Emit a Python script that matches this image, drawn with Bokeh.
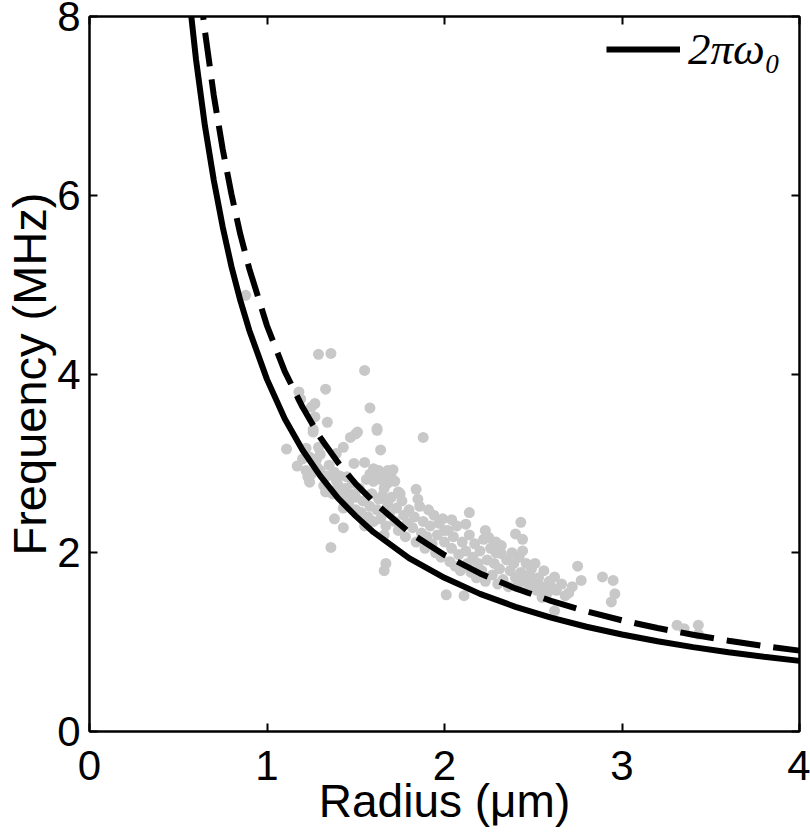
from bokeh.plotting import figure
from bokeh.models import LinearAxis, FixedTicker, Range1d, Legend, LegendItem
from bokeh.embed import file_html
from bokeh.resources import INLINE

# ---- data ----
x_ticks = [0, 1, 2, 3, 4]
y_ticks = [0, 2, 4, 6, 8]

# 2*pi*omega_0 (solid) curve
solid_r = [0.55, 0.6, 0.65, 0.7, 0.75, 0.8, 0.85, 0.9, 1.0, 1.1, 1.2, 1.3, 1.4, 1.5, 1.6,
           1.8, 2.0, 2.2, 2.4, 2.6, 2.8, 3.0, 3.2, 3.4, 3.6, 3.8, 4.0]
solid_f = [8.43, 7.52, 6.78, 6.17, 5.65, 5.20, 4.82, 4.49, 3.94, 3.50, 3.15, 2.86, 2.61, 2.41, 2.23,
           1.94, 1.72, 1.54, 1.395, 1.274, 1.172, 1.085, 1.010, 0.944, 0.887, 0.836, 0.790]

# dashed curve
dash_r = [0.62, 0.65, 0.7, 0.75, 0.8, 0.85, 0.9, 1.0, 1.1, 1.2, 1.3, 1.4, 1.5, 1.6,
          1.8, 2.0, 2.2, 2.4, 2.6, 2.8, 3.0, 3.2, 3.4, 3.6, 3.8, 4.0]
dash_f = [8.34, 7.84, 7.12, 6.52, 6.01, 5.56, 5.18, 4.54, 4.03, 3.63, 3.29, 3.01, 2.77, 2.57,
          2.23, 1.975, 1.769, 1.601, 1.462, 1.345, 1.244, 1.158, 1.082, 1.016, 0.957, 0.905]

# measured bubbles (radius um, frequency MHz)
meas_r = [0.88, 1.29, 1.36, 1.55, 1.18, 1.33, 1.19, 1.27, 1.25, 1.58, 1.27, 1.34, 1.62, 1.26, 1.51,
          1.47, 1.88, 1.43, 1.11, 1.22, 1.64, 1.29, 1.39, 1.24, 1.49, 1.55, 1.17, 1.28, 1.61, 1.68,
          1.41, 1.26, 1.50, 1.62, 1.24, 1.39, 1.39, 1.65, 1.74, 1.84, 2.14, 1.99, 2.04, 2.43, 2.12,
          1.38, 1.43, 2.00, 2.23, 2.40, 2.44, 2.25, 2.29, 1.36, 2.44, 1.67, 1.66, 2.32, 2.51, 2.62,
          2.75, 2.77, 2.89, 2.95, 2.96, 2.94, 2.01, 2.11, 2.68, 2.55, 2.62, 3.31, 3.35, 3.43, 3.43,
          1.58, 1.60, 1.63, 1.66, 1.70, 1.64, 1.60, 1.68, 1.72, 1.71,
          1.20, 1.22, 1.25, 1.28, 1.30, 1.23, 1.30,
          1.32, 1.34, 1.35, 1.37, 1.38, 1.40, 1.33,
          1.42, 1.44, 1.45, 1.46, 1.47, 1.48, 1.50, 1.50, 1.43,
          1.52, 1.53, 1.54, 1.56, 1.57, 1.58, 1.59, 1.60, 1.55,
          1.62, 1.63, 1.64, 1.66, 1.67, 1.68, 1.69, 1.70, 1.66,
          1.72, 1.73, 1.74, 1.76, 1.77, 1.78, 1.79, 1.80, 1.75,
          1.82, 1.83, 1.84, 1.86, 1.87, 1.88, 1.89, 1.90, 1.85,
          1.92, 1.93, 1.94, 1.95, 1.96, 1.97, 1.98, 2.00, 1.91,
          2.02, 2.03, 2.04, 2.05, 2.06, 2.07, 2.08, 2.10, 2.09,
          2.12, 2.13, 2.14, 2.15, 2.16, 2.17, 2.18, 2.19, 2.20,
          2.21, 2.22, 2.23, 2.24, 2.26, 2.27, 2.28, 2.30, 2.29,
          2.31, 2.32, 2.33, 2.35, 2.36, 2.37, 2.38, 2.40, 2.39,
          2.41, 2.42, 2.43, 2.45, 2.46, 2.47, 2.48, 2.50, 2.49,
          2.52, 2.53, 2.55, 2.56, 2.58, 2.59, 2.60,
          2.63, 2.66, 2.70, 2.72]
meas_f = [4.88, 4.22, 4.23, 4.04, 3.80, 3.83, 3.72, 3.67, 3.63, 3.62, 3.52, 3.46, 3.39, 3.38, 3.35,
          3.29, 3.29, 3.18, 3.16, 3.17, 3.15, 3.18, 3.11, 3.07, 3.00, 3.01, 2.97, 2.96, 2.90, 2.92,
          2.86, 3.35, 3.33, 3.37, 2.79, 2.81, 2.70, 2.64, 2.68, 2.71, 2.45, 2.38, 2.37, 2.34, 2.32,
          2.38, 2.28, 2.25, 2.25, 2.21, 2.15, 2.17, 2.12, 2.06, 2.02, 1.88, 1.80, 1.99, 1.88, 1.73,
          1.85, 1.69, 1.73, 1.69, 1.54, 1.45, 1.53, 1.52, 1.52, 1.50, 1.35, 1.19, 1.15, 1.19, 1.09,
          2.88, 2.94, 2.92, 2.88, 2.85, 2.82, 2.80, 2.78, 2.80, 2.93,
          3.05, 2.92, 2.88, 3.05, 2.92, 2.85, 3.10,
          2.75, 2.86, 2.98, 2.66, 2.90, 2.76, 2.68,
          2.62, 2.72, 2.85, 2.55, 2.66, 2.78, 2.48, 2.62, 2.50,
          2.72, 2.45, 2.58, 2.82, 2.40, 2.52, 2.66, 2.35, 2.30,
          2.48, 2.60, 2.38, 2.72, 2.30, 2.55, 2.44, 2.62, 2.20,
          2.35, 2.50, 2.25, 2.58, 2.42, 2.18, 2.33, 2.48, 2.66,
          2.28, 2.40, 2.12, 2.52, 2.22, 2.35, 2.05, 2.18, 2.60,
          2.30, 2.10, 2.42, 2.00, 2.20, 2.33, 1.95, 2.12, 2.48,
          2.25, 1.90, 2.05, 2.18, 1.85, 2.30, 1.98, 2.12, 1.80,
          2.02, 1.88, 2.20, 1.78, 1.95, 2.10, 1.72, 1.88, 2.02,
          1.80, 2.15, 1.68, 1.92, 2.05, 1.75, 1.88, 1.65, 2.00,
          1.82, 2.08, 1.70, 1.92, 1.62, 1.80, 2.00, 1.72, 1.88,
          1.62, 1.95, 1.78, 1.68, 1.88, 1.58, 1.75, 1.66, 1.82,
          1.58, 1.72, 1.62, 1.80, 1.55, 1.68, 1.62,
          1.58, 1.65, 1.55, 1.62]

legend_label = "2πω₀"
x_label = "Radius (μm)"
y_label = "Frequency (MHz)"

FONT = "Liberation Sans"

p = figure(width=810, height=833, output_backend="svg", toolbar_location=None,
           x_range=Range1d(0, 4), y_range=Range1d(0, 8),
           min_border_left=86, min_border_right=11, min_border_top=16, min_border_bottom=102,
           x_axis_location=None, y_axis_location=None)
p.grid.visible = False
p.outline_line_color = "black"
p.outline_line_width = 2
p.background_fill_color = "white"
p.border_fill_color = "white"


def style_axis(ax, ticks, labels=True):
    ax.ticker = FixedTicker(ticks=ticks)
    ax.axis_line_color = "black"
    ax.axis_line_width = 2
    ax.major_tick_in = 8
    ax.major_tick_out = 0
    ax.major_tick_line_width = 2
    ax.minor_tick_line_color = None
    ax.major_label_text_font = FONT
    ax.major_label_text_font_size = "42px"
    ax.major_label_text_color = "black"
    ax.axis_label_text_font = FONT
    ax.axis_label_text_font_style = "normal"
    ax.axis_label_text_color = "black"
    if not labels:
        ax.major_label_text_font_size = "1px"
        ax.major_label_text_alpha = 0
        ax.major_label_standoff = 0


xb = LinearAxis(axis_label=x_label)
style_axis(xb, x_ticks)
xb.major_label_standoff = 19
xb.axis_label_text_font_size = "46px"
xb.axis_label_standoff = -8
p.add_layout(xb, "below")

yl = LinearAxis(axis_label=y_label)
style_axis(yl, y_ticks)
yl.major_label_standoff = 9
yl.axis_label_text_font_size = "47px"
yl.axis_label_standoff = -2
p.add_layout(yl, "left")

xt = LinearAxis()
style_axis(xt, x_ticks, labels=False)
p.add_layout(xt, "above")

yr = LinearAxis()
style_axis(yr, y_ticks, labels=False)
p.add_layout(yr, "right")

p.scatter(meas_r, meas_f, size=11, color="#c8c8c8", line_color=None)
dashed = p.line(dash_r, dash_f, line_color="black", line_width=6, line_dash="34 13")
solid = p.line(solid_r, solid_f, line_color="black", line_width=6)

legend = Legend(items=[LegendItem(label=legend_label, renderers=[solid])],
                location=(517, 656), margin=0, padding=0, spacing=0,
                glyph_width=74, glyph_height=46, label_standoff=8,
                label_text_font="Liberation Serif", label_text_font_style="italic",
                label_text_font_size="45px", label_text_color="black",
                border_line_alpha=0, background_fill_alpha=0)
p.add_layout(legend, "center")

open("out.html", "w").write(file_html(p, INLINE))
